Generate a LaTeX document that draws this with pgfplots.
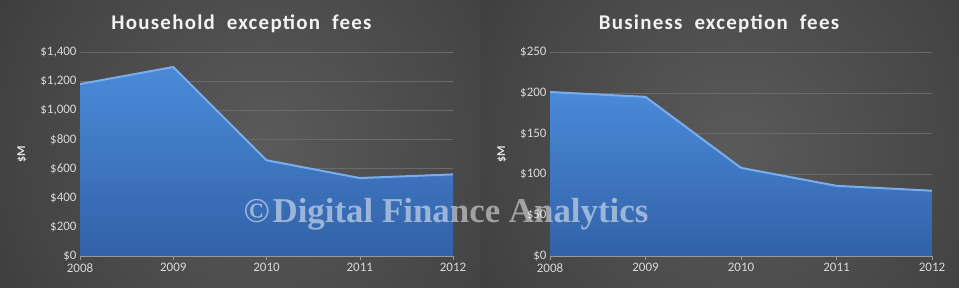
\documentclass[border=0pt]{standalone}
\usepackage{pgfplots}
\pgfplotsset{compat=1.18}
\usepackage{fontspec}
\setmainfont{Carlito}
\newfontfamily\wmfont{Liberation Serif}
\definecolor{bgin}{HTML}{5A5A5A}
\definecolor{bgmid}{HTML}{444444}
\definecolor{bgout}{HTML}{222222}
\definecolor{areatop}{HTML}{4A8AD8}
\definecolor{areabot}{HTML}{3262A8}
\definecolor{areaedge}{HTML}{78AEEE}
\definecolor{ticktxt}{HTML}{D9D9D9}
\definecolor{gridc}{HTML}{6A6A6A}
\pgfdeclareradialshading{bgshade}{\pgfpoint{0bp}{0bp}}{color(0bp)=(bgin); color(22bp)=(bgmid); color(50bp)=(bgout); color(72bp)=(bgout)}
\pgfplotsset{
  exc/.style={
    scale only axis, height=204bp,
    xmin=0, xmax=4, ymin=0,
    xtick={0,1,2,3,4},
    xticklabels={2008,2009,2010,2011,2012},
    axis x line*=bottom, axis y line*=left,
    y axis line style={draw=none},
    x axis line style={draw=gray!80},
    ytick style={draw=none},
    xtick style={draw=gray!80},
    xtick align=outside, major tick length=4bp,
    ymajorgrids, grid style={draw=gridc, line width=0.6bp},
    tick label style={font=\fontsize{13}{15}\selectfont, text=ticktxt},
    /pgf/number format/assume math mode=true,
    /pgf/number format/1000 sep={,},
    yticklabel={\$\pgfmathprintnumber{\tick}},
    title style={font=\bfseries\fontsize{21}{24}\selectfont\addfontfeature{LetterSpace=6}, text=white!95!black, yshift=10bp},
    every axis y label/.style={at={(axis description cs:0,0.5)}, rotate=90, anchor=center,
      font=\bfseries\fontsize{12}{14}\selectfont, text=white!90!black},
  }
}
\begin{document}
\begin{tikzpicture}
\fill[bgout] (0,0) rectangle (959bp,288bp);
\begin{scope}
\clip (0,0) rectangle (480bp,288bp);
\shade[shading=bgshade] (-15bp,-140bp) rectangle (545bp,420bp);
\end{scope}
\begin{scope}
\clip (480bp,0) rectangle (959bp,288bp);
\shade[shading=bgshade] (455bp,-140bp) rectangle (1015bp,420bp);
\end{scope}
\begin{axis}[exc, at={(80bp,32bp)}, anchor=south west, width=373bp,
  ymax=1400, ytick={0,200,...,1400},
  title={Household\hspace{6bp} exception\hspace{6bp} fees},
  title style={xshift=-25bp},
  ylabel={\$M}, every axis y label/.append style={yshift=58bp}]
\addplot[draw=none, top color=areatop, bottom color=areabot] coordinates {(0,1180) (1,1297) (2,657) (3,535) (4,560)} \closedcycle;
\addplot[areaedge, line width=2bp] coordinates {(0,1180) (1,1297) (2,657) (3,535) (4,560)};
\end{axis}
\begin{axis}[exc, at={(550bp,32bp)}, anchor=south west, width=382bp,
  ymax=250, ytick={0,50,...,250},
  title={Business\hspace{6bp} exception\hspace{6bp} fees},
  title style={xshift=-22bp},
  ylabel={\$M}, every axis y label/.append style={yshift=48bp}]
\addplot[draw=none, top color=areatop, bottom color=areabot] coordinates {(0,201) (1,195) (2,108) (3,86) (4,80)} \closedcycle;
\addplot[areaedge, line width=2bp] coordinates {(0,201) (1,195) (2,108) (3,86) (4,80)};
\end{axis}
\node[font=\wmfont\bfseries\fontsize{35}{38}\selectfont, text=white, opacity=0.5, inner sep=0] at (446bp,74bp) {©\hspace{3bp}Digital Finance Analytics};
\end{tikzpicture}
\end{document}
